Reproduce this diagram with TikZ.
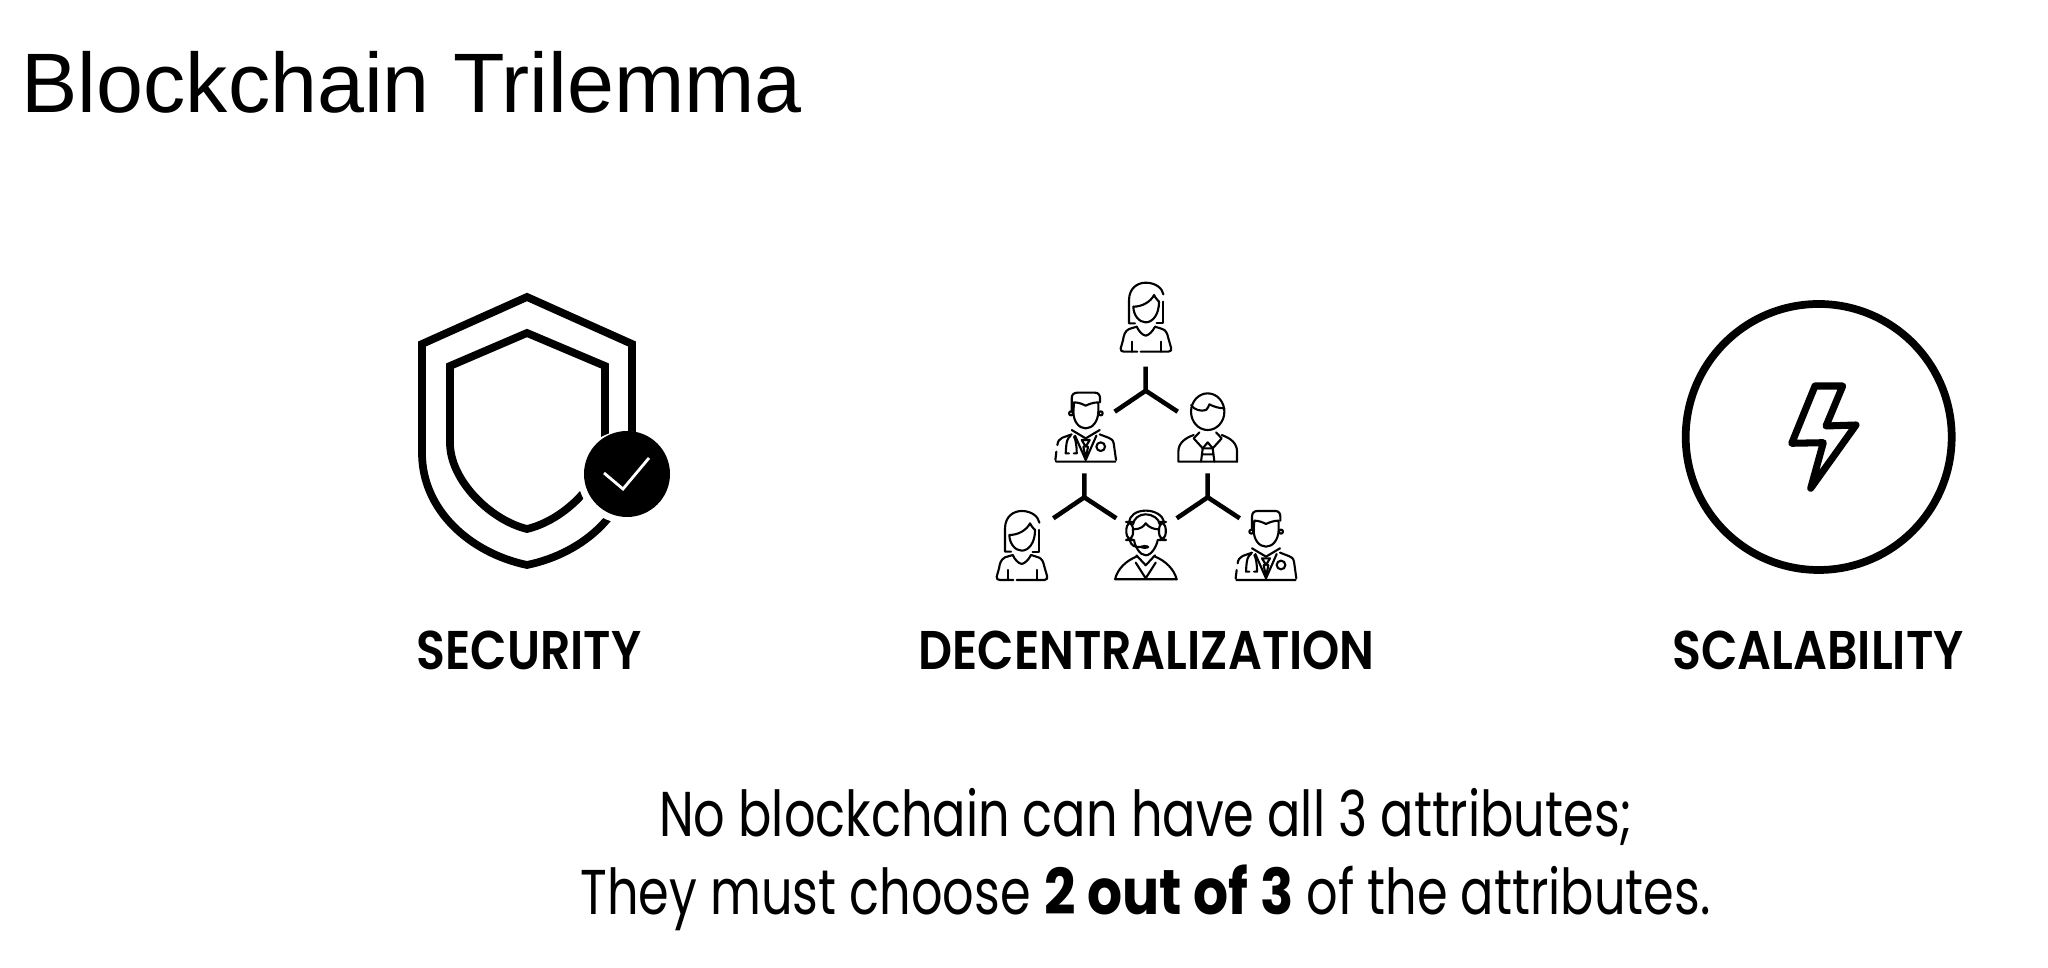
\documentclass[tikz,border=0pt]{standalone}
\usepackage{fontspec}
\setmainfont{Liberation Sans}
\newfontfamily\attrfont[FakeStretch=0.87]{Poppins SemiBold}
\newfontfamily\notefont[FakeStretch=0.78]{Poppins}
\newfontfamily\noteboldfont[FakeStretch=0.87]{Poppins Bold}
\tikzset{
  person/.style={scale=1/3},
  pen/.style={line width=0.6pt,line cap=round,line join=round},
  heading/.style={anchor=base west,inner sep=0pt,font=\fontsize{24}{24}\selectfont},
  attr/.style={anchor=base,inner sep=0pt,font=\attrfont\fontsize{15.5}{15.5}\selectfont},
  note/.style={anchor=base,inner sep=0pt,font=\notefont\fontsize{18}{18}\selectfont},
  fork/.pic={
    \coordinate (-hub) at (0,0);
    \coordinate (-top) at (0,-24);
    \coordinate (-left) at (-31,21);
    \coordinate (-right) at (32,21);
    \draw[line width=1.3pt] (-top) -- (-hub) (-left) -- (-hub) -- (-right);
  },
  woman/.pic={
    \draw[pen] (-32,-85) -- (-50,-85) -- (-50,-155) .. controls (-50,-190) and (-25,-207) .. (0,-207) .. controls (30,-207) and (50,-190) .. (53,-172);
    \draw[pen] (53,-150) -- (53,-85) -- (33,-85);
    \draw[pen] (-37,-135) .. controls (-37,-110) and (-20,-88) .. (0,-88) .. controls (20,-88) and (40,-110) .. (40,-150);
    \draw[pen] (-37,-135) .. controls (-10,-135) and (15,-150) .. (25,-170) .. controls (30,-160) and (35,-155) .. (40,-150);
    \draw[pen] (-27,-75) -- (-50,-68) .. controls (-62,-62) and (-66,-50) .. (-68,-35) -- (-75,-10) .. controls (-76,-3) and (-72,0) .. (-65,0) -- (-25,0);
    \draw[pen] (-15,0) -- (68,0) .. controls (76,0) and (78,-5) .. (76,-12) -- (68,-40) .. controls (65,-55) and (60,-65) .. (50,-68) -- (28,-75);
    \draw[pen] (-27,-75) .. controls (-20,-60) and (-10,-50) .. (0,-48) .. controls (10,-50) and (20,-60) .. (28,-75);
    \draw[pen] (-42,-30) -- (-42,0) (46,-30) -- (46,0);
  },
  doctor/.pic={
    \draw[pen] (-42,-150) -- (-42,-190) .. controls (-42,-202) and (-35,-207) .. (-25,-207) -- (28,-207) .. controls (38,-207) and (43,-200) .. (43,-190) -- (43,-178);
    \draw[pen] (-37,-150) .. controls (-37,-120) and (-20,-100) .. (0,-100) .. controls (20,-100) and (37,-120) .. (38,-150);
    \draw[pen] (-37,-150) -- (-35,-178) .. controls (-20,-178) and (-8,-172) .. (0,-168) .. controls (8,-172) and (22,-178) .. (38,-178) -- (38,-150);
    \draw[pen] (-44,-145) circle (6) (45,-145) circle (6) (45,-45) circle (13);
    \draw[pen] (-89,0) -- (89,0) (-91,-5) -- (-88,-30);
    \draw[pen] (-85,-50) .. controls (-84,-62) and (-78,-68) .. (-70,-72) -- (-42,-82);
    \draw[pen] (91,-5) -- (84,-55) .. controls (82,-65) and (76,-70) .. (68,-72) -- (42,-82);
    \draw[pen] (-42,-95) -- (0,-70) -- (42,-95) (-32,-78) -- (0,-5) -- (32,-78);
    \draw[pen] (-12,-65) -- (12,-65) -- (0,-45) -- cycle (-7,-45) -- (0,-8) -- (7,-45);
    \draw[pen] (-45,-78) .. controls (-55,-70) and (-58,-65) .. (-60,-25) -- (-50,-25);
    \draw[pen] (-35,-75) .. controls (-30,-65) and (-27,-50) .. (-27,-25) -- (-36,-25);
  },
  man/.pic={
    \draw[pen] (0,-150) ellipse (50 and 55);
    \draw[pen] (-50,-170) .. controls (-40,-155) and (-20,-150) .. (-5,-155) .. controls (0,-160) and (3,-166) .. (5,-172) .. controls (18,-165) and (35,-160) .. (50,-160);
    \draw[pen] (-88,0) -- (88,0) (-88,0) -- (-88,-30) .. controls (-88,-55) and (-70,-70) .. (-42,-80);
    \draw[pen] (88,0) -- (88,-30) .. controls (88,-55) and (70,-70) .. (42,-80);
    \draw[pen] (-25,-88) -- (-42,-70) -- (-15,-40) -- (0,-58) -- (15,-40) -- (42,-70) -- (25,-88);
    \draw[pen] (-15,-40) -- (15,-40) (-15,-40) -- (-20,0) (15,-40) -- (20,0) (-18,-22) -- (18,-22);
  },
  agent/.pic={
    \draw[pen] (-50,-172) .. controls (-48,-190) and (-30,-206) .. (0,-206) .. controls (30,-206) and (52,-190) .. (55,-172);
    \draw[pen] (-38,-165) .. controls (-36,-182) and (-20,-195) .. (0,-195) .. controls (20,-195) and (40,-182) .. (42,-165);
    \draw[pen,rounded corners=2pt] (-58,-172) rectangle (-38,-118) (40,-172) rectangle (60,-118);
    \draw[pen] (-35,-118) .. controls (-33,-100) and (-18,-72) .. (0,-72) .. controls (18,-72) and (33,-100) .. (36,-118);
    \draw[pen] (-36,-150) .. controls (-15,-150) and (-5,-160) .. (0,-168) .. controls (10,-155) and (25,-150) .. (38,-150);
    \draw[pen] (-48,-118) .. controls (-45,-100) and (-30,-95) .. (-15,-97);
    \fill (-3,-97) ellipse (14 and 6);
    \draw[pen] (-92,0) -- (93,0) (-92,0) .. controls (-85,-30) and (-60,-55) .. (-28,-68);
    \draw[pen] (93,0) .. controls (85,-30) and (60,-55) .. (28,-68);
    \draw[pen] (-28,-72) -- (0,-42) -- (28,-72) (-30,-50) -- (0,-3) -- (30,-50);
  },
}
\begin{document}
\begin{tikzpicture}[x=0.01cm,y=-0.01cm]
\useasboundingbox (0,0) rectangle (2048,968);

\node[heading] (title) at (21,113) {Blockchain Trilemma};

% shield
\draw[line width=2.2pt,miter limit=3] (527,297) -- (632,344) -- (632,453) .. controls (632,510) and (585,553) .. (527,565) .. controls (470,553) and (422,510) .. (422,453) -- (422,344) -- cycle;
\draw[line width=2.2pt,miter limit=3] (527,333) -- (605,366) -- (605,443) .. controls (605,480) and (565,520) .. (527,529) .. controls (490,520) and (450,480) .. (450,443) -- (450,366) -- cycle;
\fill[white] (624,477) circle (46);
\fill (627,474) circle (43);
\draw[white,line width=0.8pt] (604,473) -- (623,489) -- (649,458);

% people
\pic[person] (top) at (1145.7,351.7) {woman};
\pic[person] (midl) at (1085.7,461.7) {doctor};
\pic[person] (midr) at (1207.7,461.7) {man};
\pic[person] (lowl) at (1021.7,580) {woman};
\pic[person] (lowm) at (1145.7,579.3) {agent};
\pic[person] (lowr) at (1266,580) {doctor};
\pic (forka) at (1145.7,390.7) {fork};
\pic (forkb) at (1084.3,497.3) {fork};
\pic (forkc) at (1207.7,497.3) {fork};

% bolt
\draw[line width=2.2pt] (1818.7,437) circle (133);
\draw[line width=2pt,line join=round] (1815,386) -- (1842.7,386) -- (1826,426) -- (1856,425) -- (1810.7,488.3) -- (1823.3,442.7) -- (1791.7,443.3) -- cycle;

\node[attr] (sec) at (529,670) {SECURITY};
\node[attr] (dec) at (1146.5,670) {DECENTRALIZATION};
\node[attr] (sca) at (1818,670) {SCALABILITY};

\node[note] (lineone) at (1146,837) {No blockchain can have all 3 attributes;};
\node[note] (linetwo) at (1145.5,915) {They must choose {\noteboldfont 2 out of 3} of the attributes.};
\end{tikzpicture}
\end{document}
